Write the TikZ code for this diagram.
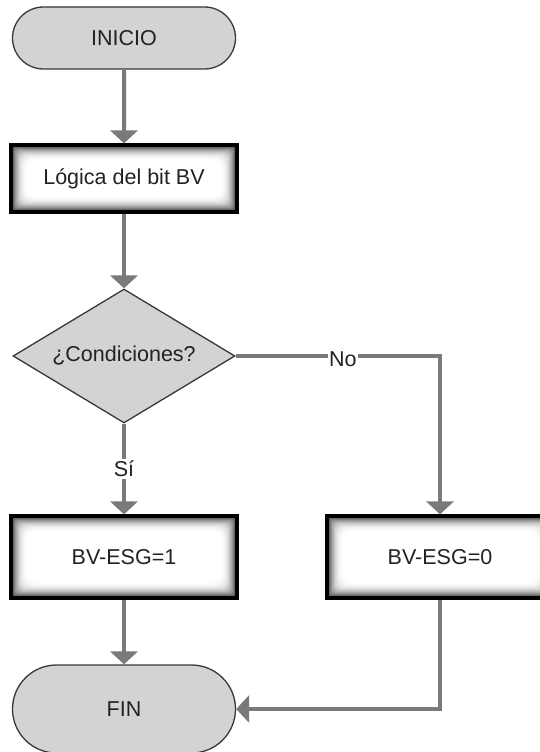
\documentclass[tikz,border=0pt]{standalone}
\usepackage{fontspec}
\setmainfont{Liberation Sans}
\usetikzlibrary{shapes.geometric,shapes.misc,arrows.meta}

\definecolor{flowline}{RGB}{122,122,122}
\definecolor{termfill}{RGB}{211,211,211}
\definecolor{termedge}{RGB}{55,55,55}
\definecolor{inktext}{RGB}{34,34,34}

\tikzset{
  lbl/.style={font=\fontsize{21.5}{25}\selectfont, text=inktext},
  terminal/.style={rounded rectangle, lbl, fill=termfill, draw=termedge,
    line width=1.3pt, minimum width=223, minimum height=62, inner sep=0},
  decision/.style={diamond, lbl, fill=termfill, draw=termedge,
    line width=1.3pt, minimum width=222, minimum height=134, inner sep=0,
    shape aspect=1.7},
  % process box: heavy black frame with a soft dark-to-white inner glow
  glowbox/.style={rectangle, lbl, draw=black, line width=3.2pt,
    minimum width=226, inner sep=0, fill=black!80,
    path picture={
      \foreach \i in {1,...,16}{
        \pgfmathsetmacro\g{80*(1-\i/16)^2.2}
        \fill[black!\g, rounded corners=0.8*\i pt]
          ([shift={(\i pt,-\i pt)}]path picture bounding box.north west)
          rectangle
          ([shift={(-\i pt,\i pt)}]path picture bounding box.south east);
      }
    }},
  flow/.style={draw=flowline, line width=4pt,
    -{Triangle[width=27pt,length=13pt]}},
  tag/.style={lbl, fill=white, inner xsep=1pt, inner ysep=2pt},
}

\begin{document}
\begin{tikzpicture}[x=1pt,y=-1pt]
  \useasboundingbox (0,0) rectangle (540,752);

  \node[terminal] (inicio) at (124,38) {INICIO};
  \node[glowbox, minimum height=67] (logica) at (124,178.5) {Lógica del bit BV};
  \node[decision] (cond) at (124,356) {¿Condiciones?};
  \node[glowbox, minimum height=82] (bv1) at (124,557) {BV-ESG=1};
  \node[glowbox, minimum height=82] (bv0) at (440,557) {BV-ESG=0};
  \node[terminal, minimum height=88] (fin) at (124,709) {FIN};

  \coordinate (noturn) at (cond.east -| bv0.north);

  \draw[flow] (inicio) -- (logica);
  \draw[flow] (logica) -- (cond);
  \draw[flow] (cond.east) -- node[tag, pos=0.525, yshift=-3pt, inner ysep=0pt] {No} (noturn) -- (bv0.north);
  \draw[flow] (cond.south) -- node[tag] {Sí} (bv1.north);
  \draw[flow] (bv1) -- (fin);
  \draw[flow] (bv0.south) |- (fin.east);
\end{tikzpicture}
\end{document}
